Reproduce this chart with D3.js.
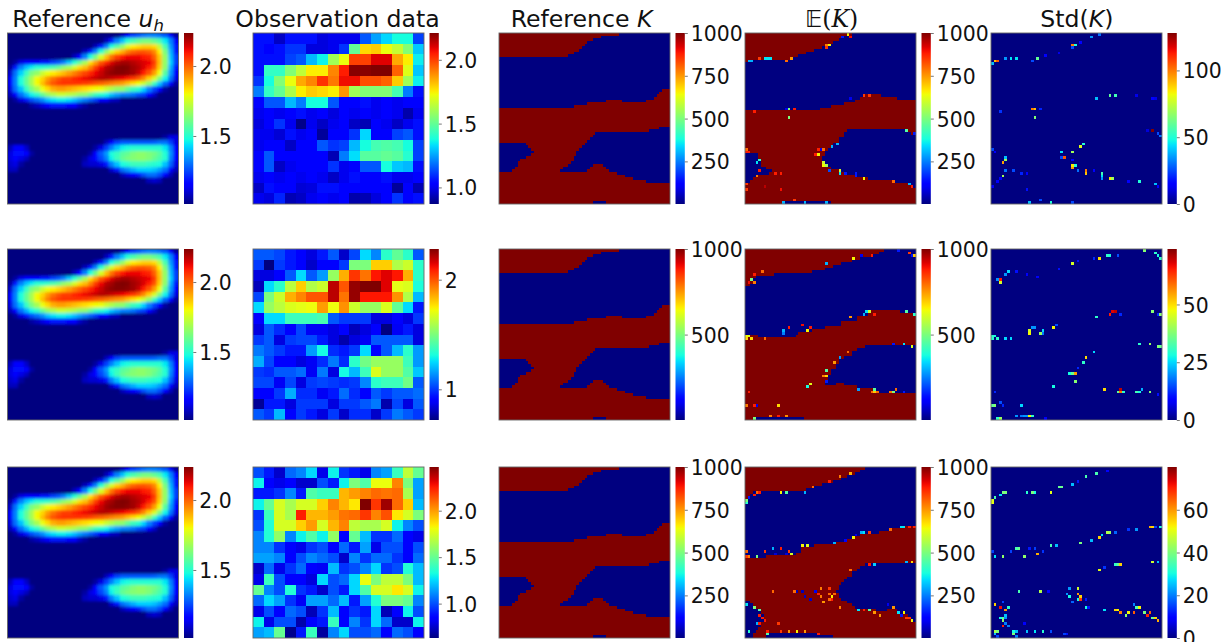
<!DOCTYPE html>
<html>
<head>
<meta charset="utf-8">
<script src="https://cdn.jsdelivr.net/npm/d3@7"></script>
<style>
  html, body { margin: 0; background: #fff; }
  svg { display: block; }
  text { font-family: "DejaVu Sans", sans-serif; fill: #111; }
</style>
</head>
<body>
<div id="chart"></div>
<script>
const titles = ["Reference", "Observation data", "Reference", "E", "Std"];

const uhDomain = [1.014, 2.236];
const uhTicks = [1.5, 2.0];
const obsDomains = [[0.87, 2.21], [0.72, 2.28], [0.63, 2.47]];
const obsTicks = [[1.0, 1.5, 2.0], [1, 2], [1.0, 1.5, 2.0]];
const kDomain = [1, 1000];
const kTicks = [[250, 500, 750, 1000], [500, 1000], [250, 500, 750, 1000]];
const stdDomains = [[0, 128], [0, 74], [0, 80]];
const stdTicks = [[0, 50, 100], [0, 25, 50], [0, 20, 40, 60]];

// reference u_h, [row, first col, values], everything else sits at the floor value
const uhFloor = 1.01;
const uhRuns = [
  [0, 21, [1.08,1.17,1.24,1.27,1.3,1.32,1.32,1.3,1.27,1.17,1.05]],
  [1, 18, [1.08,1.19,1.32,1.4,1.5,1.55,1.59,1.62,1.62,1.59,1.55,1.45,1.32,1.17]],
  [2, 16, [1.08,1.19,1.32,1.48,1.57,1.66,1.76,1.82,1.84,1.86,1.86,1.84,1.72,1.55,1.35,1.19]],
  [3, 14, [1.08,1.19,1.32,1.5,1.65,1.76,1.85,1.9,1.96,2.0,2.02,2.02,2.0,1.95,1.82,1.62,1.38,1.19]],
  [4, 12, [1.08,1.17,1.32,1.48,1.62,1.76,1.88,1.98,2.05,2.1,2.12,2.12,2.12,2.1,2.08,2.0,1.87,1.66,1.4,1.24]],
  [5, 1, [1.05,1.12,1.17,1.17,1.17,1.19,1.19,1.24,1.27,1.32,1.4,1.5,1.59,1.69,1.84,1.92,2.02,2.08,2.14,2.18,2.2,2.2,2.18,2.16,2.14,2.12,2.05,1.88,1.66,1.42,1.24]],
  [6, 0, [1.05,1.19,1.32,1.4,1.45,1.5,1.5,1.52,1.55,1.59,1.65,1.69,1.76,1.84,1.88,1.96,2.05,2.12,2.18,2.2,2.23,2.236,2.23,2.2,2.18,2.14,2.1,2.02,1.86,1.65,1.38,1.19]],
  [7, 0, [1.1,1.3,1.42,1.52,1.62,1.66,1.74,1.79,1.82,1.85,1.88,1.92,1.96,2.0,2.04,2.08,2.12,2.16,2.2,2.22,2.23,2.23,2.22,2.2,2.16,2.1,2.02,1.92,1.79,1.57,1.35,1.17]],
  [8, 0, [1.17,1.32,1.48,1.59,1.69,1.8,1.85,1.92,1.98,2.02,2.05,2.05,2.08,2.1,2.12,2.14,2.16,2.18,2.18,2.16,2.14,2.12,2.1,2.06,2.02,1.95,1.86,1.76,1.62,1.46,1.3,1.12]],
  [9, 0, [1.17,1.32,1.48,1.59,1.69,1.8,1.88,1.96,2.02,2.05,2.06,2.06,2.06,2.06,2.05,2.04,2.02,2.0,1.98,1.96,1.94,1.92,1.88,1.84,1.8,1.74,1.65,1.52,1.4,1.28,1.15,1.05]],
  [10, 0, [1.12,1.3,1.4,1.52,1.62,1.69,1.79,1.84,1.9,1.92,1.92,1.9,1.88,1.86,1.84,1.82,1.8,1.79,1.74,1.7,1.66,1.65,1.59,1.53,1.5,1.42,1.32,1.24,1.15,1.05]],
  [11, 0, [1.08,1.17,1.3,1.38,1.46,1.51,1.59,1.66,1.7,1.74,1.74,1.72,1.7,1.66,1.65,1.59,1.53,1.5,1.46,1.4,1.36,1.32,1.32,1.3,1.26,1.24,1.17,1.09]],
  [12, 1, [1.05,1.12,1.19,1.26,1.3,1.34,1.4,1.44,1.46,1.46,1.44,1.4,1.36,1.32,1.28,1.24,1.17,1.15,1.09,1.08]],
  [13, 4, [1.05,1.08,1.12,1.17,1.19,1.19,1.19,1.17,1.15,1.09,1.05]],
  [19, 29, [1.05,1.12,1.12]],
  [20, 18, [1.08,1.17,1.24,1.27,1.27,1.27,1.27,1.27,1.27,1.28,1.3,1.3,1.24,1.12]],
  [21, 0, [1.08,1.16,1.15,1.09]],
  [21, 16, [1.05,1.12,1.24,1.32,1.4,1.46,1.48,1.5,1.5,1.5,1.5,1.5,1.5,1.45,1.32,1.16]],
  [22, 0, [1.12,1.18,1.18,1.15,1.05]],
  [22, 15, [1.05,1.15,1.27,1.35,1.48,1.52,1.57,1.59,1.63,1.65,1.65,1.63,1.61,1.57,1.49,1.34,1.17]],
  [23, 0, [1.12,1.17,1.12,1.08]],
  [23, 14, [1.05,1.12,1.17,1.25,1.32,1.46,1.53,1.59,1.62,1.64,1.65,1.65,1.63,1.59,1.55,1.5,1.32,1.16]],
  [24, 0, [1.1,1.12,1.05]],
  [24, 14, [1.08,1.1,1.1,1.12,1.19,1.32,1.4,1.48,1.5,1.53,1.53,1.53,1.51,1.5,1.48,1.4,1.28,1.12]],
  [25, 0, [1.08,1.08]],
  [25, 19, [1.1,1.19,1.3,1.34,1.38,1.42,1.42,1.42,1.4,1.36,1.3,1.17,1.08]],
  [26, 21, [1.08,1.12,1.17,1.19,1.26,1.3,1.3,1.26,1.17,1.08]],
  [27, 26, [1.08,1.1,1.08]]
];

const obsRow1 = [
  [1.05,1.05,0.95,1.05,1.05,1.05,0.98,1.0,1.0,1.0,1.15,1.25,1.32,1.38,1.38,1.12],
  [1.05,1.02,1.05,1.1,1.1,0.98,0.98,1.0,1.1,1.5,1.78,1.8,1.72,1.66,1.55,1.3],
  [1.05,1.05,1.05,1.12,1.15,1.28,1.36,1.6,1.72,2.0,2.0,2.1,2.1,1.85,1.75,1.35],
  [1.05,1.42,1.42,1.55,1.65,1.75,1.75,1.9,2.05,2.2,2.2,2.21,2.21,1.95,1.7,1.3],
  [1.1,1.38,1.55,1.72,1.85,1.9,2.02,1.92,2.08,2.08,1.98,1.98,1.95,1.8,1.6,1.35],
  [1.2,1.42,1.5,1.62,1.75,1.8,1.78,1.75,1.88,1.6,1.55,1.55,1.55,1.45,1.2,1.05],
  [1.02,1.15,1.15,1.28,1.2,1.38,1.38,1.15,1.02,1.02,1.05,1.0,1.02,1.0,1.02,1.03],
  [1.0,1.02,1.0,1.02,1.05,1.0,1.02,0.98,1.02,1.0,1.02,1.0,1.02,1.0,0.92,1.0],
  [0.98,1.02,1.1,1.0,0.88,1.0,0.95,1.0,1.02,0.95,0.93,1.02,1.0,0.95,1.0,1.06],
  [1.0,1.0,0.97,1.05,1.0,1.02,0.9,1.02,1.02,1.1,1.32,1.02,1.02,1.12,1.15,1.05],
  [1.0,1.02,1.04,0.95,1.02,1.04,1.15,1.1,1.12,1.28,1.38,1.45,1.47,1.45,1.38,1.12],
  [1.02,1.15,1.03,1.02,1.04,1.02,1.02,0.93,1.2,1.33,1.48,1.48,1.5,1.48,1.4,1.12],
  [1.02,1.15,0.95,1.0,1.02,1.02,1.02,1.1,1.0,1.02,1.15,1.15,1.38,1.3,1.28,1.05],
  [1.0,1.02,1.0,1.03,1.0,1.02,1.0,0.95,1.0,1.05,1.02,1.02,1.05,1.0,1.0,1.02],
  [0.95,1.05,1.02,1.03,0.97,0.98,1.05,1.05,1.02,1.03,1.03,1.02,1.03,0.9,1.02,0.93],
  [1.0,0.98,1.08,0.93,0.95,1.0,1.02,1.0,1.02,0.92,0.93,0.98,1.03,1.1,1.02,1.05]
];
const obsRow2 = [
  [1.05,1.05,1.02,0.95,0.92,0.85,0.95,1.05,0.82,1.02,1.25,1.12,1.35,1.45,1.35,1.05],
  [1.0,0.72,1.0,0.95,0.92,0.82,0.9,0.9,1.0,1.5,1.5,1.8,1.8,1.6,1.65,1.35],
  [0.85,0.85,0.92,1.05,1.25,1.05,1.15,1.55,1.85,2.05,1.95,2.1,2.15,2.1,1.85,1.35],
  [0.8,1.25,1.35,1.62,1.8,1.6,1.65,2.2,2.0,2.25,2.28,2.28,2.15,1.7,1.68,1.32],
  [1.02,1.5,1.65,1.85,1.92,2.0,2.0,2.2,1.95,2.25,2.1,2.1,2.1,1.9,1.6,1.2],
  [1.25,1.55,1.62,1.68,1.7,1.72,1.88,1.72,1.9,1.65,1.55,1.55,1.68,1.45,1.25,0.95],
  [0.9,1.25,1.25,1.38,1.38,1.38,1.4,1.05,1.0,1.0,1.0,0.85,0.85,0.92,0.85,1.0],
  [0.85,1.05,0.98,0.92,1.02,0.88,0.88,0.85,0.9,0.8,0.85,0.9,0.72,0.88,0.95,0.85],
  [1.0,1.05,0.85,1.0,1.02,1.02,0.95,0.85,0.78,0.85,0.88,1.05,1.05,1.05,1.05,0.85],
  [1.1,1.05,1.0,0.95,0.95,1.15,1.3,0.98,0.95,1.0,1.25,0.92,1.05,1.2,1.35,1.15],
  [1.18,1.02,0.9,0.9,0.85,0.88,0.98,1.1,0.98,1.35,1.48,1.55,1.55,1.55,1.38,1.15],
  [1.0,0.98,1.05,1.05,1.08,0.88,1.1,0.85,1.3,1.2,1.38,1.68,1.55,1.55,1.42,1.22],
  [1.02,1.02,0.88,1.02,0.85,1.0,1.02,1.0,0.98,1.0,1.12,1.35,1.38,1.38,1.48,1.05],
  [0.92,0.92,1.0,1.18,0.98,0.98,0.88,0.95,1.08,0.98,0.92,1.05,1.0,1.05,1.05,1.08],
  [0.75,0.95,0.95,0.85,1.0,1.0,1.0,0.85,1.0,1.0,1.05,1.1,0.78,1.02,0.85,1.05],
  [1.05,1.0,1.2,0.92,1.0,0.95,0.85,1.0,0.82,0.98,0.98,0.82,1.0,1.1,1.05,1.0]
];
const obsRow3 = [
  [1.0,0.9,0.75,1.05,1.1,1.25,0.8,1.3,0.95,0.9,0.8,1.1,1.15,1.4,1.7,1.5],
  [1.3,0.85,0.8,0.85,0.75,0.75,1.0,0.9,1.3,1.55,1.45,1.8,1.8,2.05,1.55,1.15],
  [0.9,0.9,0.95,1.1,0.9,1.45,1.4,1.4,1.95,2.0,2.05,2.1,2.08,2.1,1.65,1.15],
  [1.3,1.5,1.75,1.65,1.75,1.75,1.9,2.05,1.95,1.85,2.47,2.2,2.42,2.1,1.9,1.2],
  [0.95,1.4,1.75,1.65,2.25,1.95,1.95,2.0,2.08,2.1,2.2,2.05,2.15,1.85,1.75,1.55],
  [1.0,1.35,1.75,1.75,1.9,2.0,1.75,1.95,2.05,1.7,1.65,1.65,1.75,1.3,1.1,1.0],
  [1.1,1.35,1.6,1.1,1.3,1.45,1.3,1.6,0.85,1.5,1.2,0.95,0.95,1.05,0.85,0.8],
  [1.1,1.1,0.95,0.85,0.8,0.95,1.0,0.85,1.05,0.9,1.15,0.8,1.0,1.0,0.85,1.0],
  [1.15,1.15,1.1,0.85,1.0,1.1,1.05,1.0,0.75,1.1,0.95,1.05,1.05,0.95,0.85,1.05],
  [0.75,1.05,0.8,0.95,1.05,0.85,0.82,1.2,0.95,1.0,1.1,1.25,0.95,1.0,1.35,1.2],
  [0.8,1.4,1.0,0.85,0.85,0.78,1.25,1.0,1.05,1.25,1.8,1.55,1.7,1.7,1.55,1.2],
  [1.5,1.1,1.0,1.35,0.95,0.9,0.75,1.0,0.9,1.25,1.45,1.75,1.75,1.85,1.75,1.3],
  [1.05,1.25,1.15,0.95,0.82,1.15,1.15,1.05,1.2,0.9,1.15,1.35,1.55,1.55,1.5,1.1],
  [0.8,1.0,0.85,1.05,1.0,0.72,0.95,1.2,0.85,0.95,0.9,1.25,0.72,0.85,1.3,1.0],
  [1.3,0.8,1.0,1.0,0.7,0.85,0.9,1.4,0.85,1.1,0.95,1.25,1.05,0.75,0.75,1.3],
  [1.15,1.2,1.5,0.65,0.9,1.4,0.68,1.1,1.25,1.0,1.0,1.05,0.85,1.05,1.0,0.85]
];

// low permeability zones as column steps: [[col, first row], ...] and [[col, row after last], ...]
const refKZones = [
  [[[0,9],[26,8],[28,7],[30,6],[31,5],[32,4],[33,3],[35,2],[38,1],[45,0]],
   [[0,28],[28,27],[33,26],[40,25],[46,26],[55,25],[58,24],[59,23],[60,22],[61,21]]],
  [[[23,51],[24,50],[26,49],[27,48],[28,46],[29,44],[30,43],[31,42],[32,41],[33,40],[34,39],[35,38],[36,37],[56,36],[60,35]],
   [[23,52],[33,51],[34,50],[35,49],[39,50],[40,51],[41,52],[44,53],[47,54],[50,55],[55,56]]],
  [[[0,41],[10,42],[11,43],[12,44],[13,null]],
   [[0,52],[5,51],[6,50],[7,48],[8,47],[10,46],[12,45]]],
  [[[35,63],[40,null]], [[35,64]]]
];
const meanKZones1 = [
  [[[0,11],[2,10],[17,9],[20,8],[23,7],[26,6],[29,5],[31,4],[33,3],[35,2],[36,1],[40,0]],
   [[0,29],[28,28],[32,27],[37,26],[41,25],[43,24],[45,23],[51,24],[57,25]]],
  [[[29,46],[30,44],[31,43],[32,42],[33,41],[35,39],[37,37],[38,36],[60,37],[62,38]],
   [[29,49],[30,50],[32,51],[35,52],[38,53],[41,54],[46,55],[55,56],[61,57],[63,58]]],
  [[[0,45],[5,48],[6,50],[8,51],[10,null]],
   [[0,57],[1,56],[2,55],[3,54],[4,53],[9,52]]],
  [[[14,63],[32,null]], [[14,64]]]
];
const meanKZones2 = [
  [[[0,14],[2,13],[3,11],[4,10],[11,9],[25,8],[30,7],[33,6],[36,5],[40,4],[43,3],[47,2],[50,1],[52,0]],
   [[0,32],[5,33],[19,32],[20,31],[25,30],[30,29],[36,27],[42,25],[46,23],[58,24]]],
  [[[30,50],[31,47],[32,45],[34,43],[35,41],[37,40],[40,38],[42,37],[45,36]],
   [[30,51],[34,50],[37,51],[42,52],[48,54]]],
  [[[4,63],[22,null]], [[4,64]]]
];
const meanKZones3 = [
  [[[0,13],[1,12],[2,10],[3,9],[23,8],[26,7],[29,6],[33,5],[36,4],[38,3],[41,2],[43,1],[45,0]],
   [[0,34],[8,33],[19,32],[21,30],[26,29],[34,28],[38,27],[40,26],[43,25],[50,24],[54,23],[59,22]]],
  [[[34,46],[35,44],[36,43],[37,42],[38,41],[40,39],[42,38],[43,37],[45,36]],
   [[34,47],[35,49],[36,50],[38,51],[40,52],[41,53],[49,54],[53,53],[57,55],[61,57],[63,58]]],
  [[[0,50],[2,51],[3,52],[4,53],[5,54],[6,55],[7,null]],
   [[0,64],[3,62],[4,61],[5,60],[6,58]]],
  [[[8,62],[28,63],[33,null]], [[8,64]]]
];

// scattered cells on the zone edges, [col, row, value]
const meanKSpots1 = [[1,10,300],[2,10,300],[5,9,850],[7,9,350],[8,9,350],[9,9,350],[15,10,800],[17,9,750],[31,4,650],[30,4,780],[30,5,850],[38,0,650],[39,1,900],[36,1,150],[39,24,100],[44,23,850],[46,23,850],[3,29,880],[15,28,100],[16,28,500],[18,28,880],[16,31,500],[60,36,450],[63,37,150],[0,43,800],[0,44,880],[1,44,880],[5,47,400],[4,48,350],[4,53,780],[5,51,880],[11,52,880],[13,52,880],[0,56,850],[7,57,950],[0,58,850],[13,58,900],[18,62,850],[14,63,300],[22,63,300],[30,63,300],[34,41,300],[32,42,300],[29,43,800],[28,43,100],[27,43,880],[27,45,650],[26,45,880],[29,48,600],[30,49,550],[29,49,650],[31,51,200],[35,51,600],[35,52,350],[37,52,150],[41,52,150],[41,53,150],[44,54,650],[55,55,800],[61,56,300],[62,57,880]];
const meanKSpots2 = [[6,8,800],[3,9,880],[2,11,500],[3,12,780],[1,12,900],[30,5,300],[40,3,650],[43,2,100],[47,2,880],[57,0,150],[61,1,850],[62,2,150],[63,2,700],[45,23,350],[44,24,300],[46,23,600],[39,25,750],[48,24,880],[60,23,450],[63,24,400],[0,32,650],[1,32,620],[0,33,680],[2,33,680],[7,33,800],[14,30,300],[14,31,250],[16,29,880],[23,30,650],[24,29,880],[21,28,900],[55,35,150],[59,35,350],[62,36,620],[38,38,800],[35,40,280],[33,42,750],[30,45,450],[29,47,780],[30,47,680],[30,49,150],[23,51,380],[24,50,620],[42,52,280],[48,52,450],[48,53,700],[47,53,800],[49,53,800],[55,53,500],[56,52,800],[59,53,150],[54,53,780],[1,53,880],[0,58,780],[3,58,880],[4,58,100],[12,58,680],[9,62,780],[12,62,880],[15,62,760],[3,63,500]];
const meanKSpots3 = [[0,12,500],[0,13,400],[1,11,150],[3,10,880],[4,9,800],[5,9,880],[13,9,650],[15,9,450],[22,9,300],[25,7,800],[31,5,880],[35,3,780],[39,2,720],[58,22,350],[59,22,350],[54,23,800],[61,22,880],[63,22,880],[43,24,300],[44,24,350],[46,24,850],[40,26,650],[41,25,100],[37,27,130],[33,28,300],[21,29,650],[23,29,620],[10,30,300],[13,30,880],[17,32,600],[16,31,850],[7,31,850],[0,31,800],[0,33,850],[1,33,780],[4,33,500],[11,32,80],[15,32,80],[48,36,330],[46,36,880],[60,35,300],[62,35,680],[39,38,800],[10,46,800],[18,46,800],[19,46,50],[21,46,50],[22,48,60],[24,49,60],[26,46,100],[28,45,780],[27,47,880],[28,48,780],[29,50,750],[31,45,850],[31,47,800],[32,48,650],[32,49,880],[31,49,800],[33,47,800],[35,52,780],[42,53,350],[44,53,880],[46,53,450],[48,54,750],[50,55,750],[53,51,100],[55,52,750],[57,54,350],[59,54,650],[58,55,150],[60,56,850],[61,56,850],[62,57,650],[0,51,350],[3,52,500],[5,53,450],[5,55,880],[6,56,880],[4,58,300],[5,58,880],[7,57,880],[12,58,850],[1,61,400],[8,62,450],[8,61,880],[13,61,850],[16,61,750],[19,61,650],[22,61,750],[27,62,880]];

const stdSpots1 = [[0,11,40],[1,10,90],[2,10,105],[5,9,35],[7,9,45],[9,9,45],[15,10,25],[17,9,60],[20,8,15],[25,7,12],[30,4,100],[31,4,50],[30,5,25],[33,3,15],[37,1,35],[40,0,30],[39,24,40],[44,23,60],[46,23,55],[54,23,12],[60,24,15],[61,24,12],[3,29,22],[15,28,100],[16,28,90],[18,28,20],[16,31,65],[60,36,128],[58,36,10],[62,37,25],[63,38,30],[0,43,25],[1,44,15],[5,46,40],[5,47,70],[4,48,95],[5,51,30],[8,51,25],[11,52,20],[13,52,15],[4,53,70],[3,54,15],[2,55,15],[0,57,15],[13,58,18],[14,63,40],[18,62,25],[22,63,50],[30,63,25],[34,41,50],[33,42,80],[26,44,45],[30,44,70],[26,46,25],[27,46,105],[30,47,15],[30,49,85],[31,49,50],[30,50,95],[32,51,30],[35,51,100],[35,52,90],[38,51,15],[41,52,55],[41,53,45],[41,54,35],[44,54,85],[45,54,70],[51,55,15],[55,55,50],[61,56,40],[62,57,15]];
const stdSpots2 = [[3,11,65],[3,12,45],[2,11,20],[6,8,25],[5,9,20],[9,8,10],[13,9,8],[17,10,8],[25,7,10],[30,5,45],[32,4,10],[38,3,12],[40,3,50],[43,2,30],[44,2,28],[47,2,15],[57,0,38],[61,1,30],[62,2,28],[63,3,30],[45,23,68],[44,24,65],[46,23,70],[39,25,30],[48,24,12],[60,23,38],[62,24,12],[63,24,38],[0,32,30],[1,32,28],[0,33,30],[2,33,30],[5,33,25],[7,33,25],[14,30,45],[14,31,48],[15,29,20],[16,29,20],[19,30,25],[18,31,40],[19,31,18],[23,29,48],[24,28,15],[55,35,30],[59,35,40],[62,36,38],[63,36,35],[38,38,25],[35,40,50],[34,42,30],[32,44,12],[29,46,28],[30,46,35],[31,46,55],[31,49,38],[23,51,28],[42,52,50],[48,52,70],[47,53,35],[48,53,58],[49,53,30],[54,53,32],[55,53,28],[56,52,22],[59,53,38],[62,54,10],[1,53,12],[1,58,38],[0,58,35],[3,57,15],[4,58,12],[11,58,25],[9,62,20],[11,62,18],[12,62,20],[13,62,20],[14,62,48],[15,62,30],[2,63,30],[3,63,40],[20,63,8]];
const stdSpots3 = [[0,12,50],[0,13,50],[1,11,35],[3,10,28],[4,9,40],[5,9,40],[13,9,32],[15,9,40],[16,9,30],[22,9,50],[25,7,38],[26,7,38],[30,6,25],[32,5,12],[35,3,35],[39,2,35],[43,1,10],[59,22,58],[60,22,55],[61,22,15],[63,22,30],[51,23,14],[54,23,22],[43,24,45],[44,24,42],[46,24,18],[41,25,28],[40,26,55],[37,27,25],[33,28,40],[22,29,35],[24,29,25],[9,30,35],[10,30,38],[7,31,15],[14,30,12],[16,30,15],[17,32,58],[19,31,14],[12,33,42],[0,31,15],[1,33,28],[4,33,42],[46,36,33],[47,36,38],[48,36,55],[60,35,48],[62,35,25],[40,38,50],[42,37,14],[10,46,35],[18,46,45],[21,46,10],[29,45,22],[32,45,48],[28,47,22],[29,48,30],[32,47,60],[33,48,55],[33,49,68],[32,49,30],[30,50,18],[35,49,12],[35,52,30],[36,52,12],[42,53,28],[46,53,55],[47,53,52],[48,54,62],[50,55,42],[51,54,52],[53,54,65],[53,51,20],[54,52,35],[55,52,52],[57,54,40],[59,54,65],[58,55,70],[60,56,38],[61,56,55],[62,57,58],[1,51,55],[3,52,72],[4,50,15],[6,52,32],[5,53,60],[5,55,25],[4,56,38],[3,56,30],[5,56,22],[4,57,42],[5,58,20],[6,59,20],[4,59,70],[12,58,10],[2,61,40],[1,61,45],[1,62,25],[2,63,15],[8,61,30],[9,61,25],[8,62,40],[9,63,20],[13,61,25],[16,61,28],[19,61,32],[22,61,16],[27,62,15],[28,62,12]];

const width = 1226;
const height = 642;
const colX = [7.5, 253, 499, 745, 991];
const rowY = [33, 249, 467];
const size = 171;
const barGap = 5.5;
const barWidth = 9.3;

const svg = d3.select("#chart").append("svg")
  .attr("width", width)
  .attr("height", height);

const defs = svg.append("defs");

// matplotlib jet channels
const jetR = d3.scaleLinear().domain([0, 0.35, 0.66, 0.89, 1]).range([0, 0, 255, 255, 128]).clamp(true);
const jetG = d3.scaleLinear().domain([0, 0.125, 0.375, 0.64, 0.91, 1]).range([0, 0, 255, 255, 0, 0]).clamp(true);
const jetB = d3.scaleLinear().domain([0, 0.11, 0.34, 0.65, 1]).range([128, 255, 255, 0, 0]).clamp(true);
const jet = t => `rgb(${jetR(t)},${jetG(t)},${jetB(t)})`;

const gradient = defs.append("linearGradient")
  .attr("id", "jet-bar")
  .attr("x1", 0).attr("y1", 1).attr("x2", 0).attr("y2", 0);
gradient.selectAll("stop")
  .data(d3.range(0, 1.001, 0.02))
  .enter().append("stop")
  .attr("offset", d => d)
  .attr("stop-color", d => jet(d));

defs.append("filter").attr("id", "soft").attr("x", "-5%").attr("y", "-5%").attr("width", "110%").attr("height", "110%")
  .append("feGaussianBlur").attr("stdDeviation", 0.55);
defs.append("filter").attr("id", "smooth").attr("x", "-5%").attr("y", "-5%").attr("width", "110%").attr("height", "110%")
  .append("feGaussianBlur").attr("stdDeviation", 1.8);

function stepAt(steps, col) {
  let value = null;
  steps.forEach(s => { if (s[0] <= col) value = s[1]; });
  return value;
}

// expand zones and spots into cells, the background value is left out
function zoneCells(zones, spots) {
  const grid = d3.range(64).map(() => d3.range(64).map(() => 1000));
  zones.forEach(([top, bottom]) => {
    d3.range(top[0][0], 64).forEach(col => {
      const first = stepAt(top, col);
      if (first === null) return;
      const last = stepAt(bottom, col);
      d3.range(first, last).forEach(row => { grid[row][col] = 1; });
    });
  });
  spots.forEach(([col, row, value]) => { grid[row][col] = value; });
  const cells = [];
  grid.forEach((line, row) => line.forEach((value, col) => {
    if (value !== 1000) cells.push({ row, col, value });
  }));
  return cells;
}

function gridCells(rows) {
  return rows.flatMap((line, row) => line.map((value, col) => ({ row, col, value })));
}

function uhCells() {
  const grid = d3.range(32).map(() => d3.range(32).map(() => uhFloor));
  uhRuns.forEach(([row, start, values]) => {
    values.forEach((v, i) => { grid[row][start + i] = v; });
  });
  return gridCells(grid);
}

function drawPanel(col, row, opts) {
  const px = colX[col];
  const py = rowY[row];
  const clipId = `clip-${col}-${row}`;

  defs.append("clipPath").attr("id", clipId)
    .append("rect").attr("width", size).attr("height", size);

  const g = svg.append("g").attr("transform", `translate(${px},${py})`);

  const x = d3.scaleBand().domain(d3.range(opts.n)).range([0, size]);
  const y = d3.scaleBand().domain(d3.range(opts.n)).range([0, size]);
  const norm = d3.scaleLinear().domain(opts.domain).range([0, 1]).clamp(true);

  const image = g.append("g").attr("clip-path", `url(#${clipId})`)
    .append("g").attr("filter", `url(#${opts.filter})`);

  // backdrop carries the most common value so only the other cells need a rect
  image.append("rect")
    .attr("x", -10).attr("y", -10)
    .attr("width", size + 20).attr("height", size + 20)
    .attr("fill", jet(norm(opts.background)));

  image.selectAll(".cell")
    .data(opts.cells)
    .enter().append("rect")
    .attr("class", "cell")
    .attr("x", d => x(d.col))
    .attr("y", d => y(d.row))
    .attr("width", x.bandwidth())
    .attr("height", y.bandwidth())
    .attr("shape-rendering", "crispEdges")
    .attr("fill", d => jet(norm(d.value)));

  g.append("rect")
    .attr("width", size).attr("height", size)
    .attr("fill", "none")
    .attr("stroke", "#666")
    .attr("stroke-width", 0.9);

  // colorbar
  const bar = g.append("g").attr("transform", `translate(${size + barGap},0)`);
  bar.append("rect")
    .attr("width", barWidth).attr("height", size)
    .attr("fill", "url(#jet-bar)");

  const scale = d3.scaleLinear().domain(opts.domain).range([size, 0]);
  const axis = bar.append("g")
    .attr("transform", `translate(${barWidth},0)`)
    .call(d3.axisRight(scale)
      .tickValues(opts.ticks)
      .tickFormat(opts.format)
      .tickSize(3)
      .tickPadding(3));
  axis.select(".domain").remove();
  axis.selectAll("line").attr("stroke", "#555").attr("stroke-width", 0.8);
  axis.selectAll("text")
    .attr("dy", "0.37em")
    .style("font-family", '"DejaVu Sans", sans-serif')
    .style("font-size", "20.4px")
    .attr("fill", "#111");
}

const f1 = d3.format(".1f");
const f0 = d3.format("d");
const uh = uhCells();
const obsRows = [obsRow1, obsRow2, obsRow3];
const meanZones = [meanKZones1, meanKZones2, meanKZones3];
const meanSpots = [meanKSpots1, meanKSpots2, meanKSpots3];
const stdSpots = [stdSpots1, stdSpots2, stdSpots3];

rowY.forEach((_, r) => {
  drawPanel(0, r, { n: 32, cells: uh, domain: uhDomain, background: uhFloor, ticks: uhTicks, format: f1, filter: "smooth" });
  drawPanel(1, r, { n: 16, cells: gridCells(obsRows[r]), domain: obsDomains[r], background: 1.0, ticks: obsTicks[r], format: r === 1 ? f0 : f1, filter: "soft" });
  drawPanel(2, r, { n: 64, cells: zoneCells(refKZones, []), domain: kDomain, background: 1000, ticks: kTicks[r], format: f0, filter: "soft" });
  drawPanel(3, r, { n: 64, cells: zoneCells(meanZones[r], meanSpots[r]), domain: kDomain, background: 1000, ticks: kTicks[r], format: f0, filter: "soft" });
  drawPanel(4, r, {
    n: 64,
    cells: stdSpots[r].map(([col, row, value]) => ({ col, row, value })),
    domain: stdDomains[r], background: 0, ticks: stdTicks[r], format: f0, filter: "soft"
  });
});

// titles, first row only
const titleY = 27;
const titleSize = "23.6px";
const addTitle = (cx, family) => svg.append("text")
  .attr("x", cx).attr("y", titleY)
  .attr("text-anchor", "middle")
  .style("font-size", titleSize)
  .style("font-family", family || '"DejaVu Sans", sans-serif');

const t1 = addTitle(88);
t1.append("tspan").text(titles[0] + " ");
t1.append("tspan").style("font-style", "italic").text("u");
t1.append("tspan").style("font-style", "italic").style("font-size", "16.5px").attr("dy", 4).text("h");

addTitle(337.5).text(titles[1]);

const t3 = addTitle(581.6);
t3.append("tspan").text(titles[2] + " ");
t3.append("tspan").style("font-style", "italic").text("K");

const t4 = addTitle(831.6, '"DejaVu Serif", serif');
t4.append("tspan").style("font-family", '"DejaVu Sans", sans-serif').text("\u{1D53C}");
t4.append("tspan").text("(");
t4.append("tspan").style("font-style", "italic").text("K");
t4.append("tspan").text(")");

const t5 = addTitle(1076.8);
t5.append("tspan").text(titles[4] + "(");
t5.append("tspan").style("font-style", "italic").text("K");
t5.append("tspan").text(")");
</script>
</body>
</html>
